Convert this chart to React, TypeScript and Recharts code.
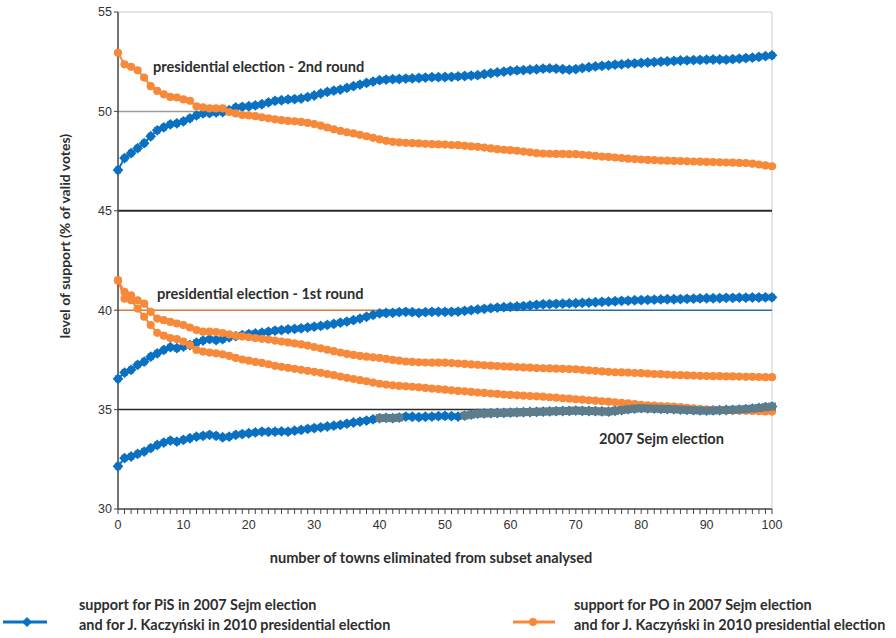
import React from "react";
import { LineChart, Line, XAxis, YAxis, ReferenceLine } from "recharts";

// number of towns eliminated (0..100)
const towns = Array.from({ length: 101 }, (_, i) => i);
const xLabels = [0, 10, 20, 30, 40, 50, 60, 70, 80, 90, 100];
const yTicks = [30, 35, 40, 45, 50, 55];

// presidential election - 2nd round
const pres2PiS = [
  47.05, 47.65, 47.9, 48.15, 48.4, 48.75, 49.05, 49.2, 49.35, 49.4,
  49.5, 49.65, 49.8, 49.9, 49.92, 49.95, 49.97, 50.06, 50.2, 50.23,
  50.26, 50.3, 50.36, 50.45, 50.53, 50.56, 50.6, 50.62, 50.65, 50.72,
  50.8, 50.9, 50.98, 51.04, 51.1, 51.18, 51.27, 51.35, 51.43, 51.5,
  51.57, 51.6, 51.62, 51.63, 51.65, 51.66, 51.68, 51.7, 51.72, 51.72,
  51.73, 51.74, 51.76, 51.78, 51.8, 51.82, 51.87, 51.92, 51.96, 52.0,
  52.04, 52.06, 52.08, 52.1, 52.12, 52.15, 52.16, 52.15, 52.12, 52.1,
  52.13, 52.18, 52.22, 52.26, 52.29, 52.32, 52.35, 52.37, 52.4, 52.42,
  52.44, 52.46, 52.48, 52.5, 52.52, 52.54, 52.56, 52.57, 52.58, 52.59,
  52.6, 52.61, 52.61, 52.6, 52.63, 52.65, 52.68, 52.7, 52.74, 52.78,
  52.82,
];
const pres2PO = [
  52.95, 52.37, 52.24, 52.07, 51.7, 51.27, 51.03, 50.86, 50.73, 50.7,
  50.6, 50.53, 50.26, 50.2, 50.15, 50.15, 50.15, 49.97, 49.9, 49.82,
  49.8, 49.76, 49.7, 49.65, 49.6, 49.56, 49.52, 49.5, 49.47, 49.42,
  49.36, 49.28, 49.19, 49.1, 49.02, 48.95, 48.89, 48.82, 48.75, 48.67,
  48.59, 48.52, 48.47, 48.44, 48.42, 48.4, 48.39, 48.37, 48.35, 48.34,
  48.33, 48.31, 48.3, 48.27, 48.24, 48.22, 48.18, 48.14, 48.1, 48.07,
  48.05, 48.02, 47.98, 47.94, 47.9, 47.88, 47.87, 47.86, 47.86, 47.85,
  47.85, 47.82, 47.79, 47.76, 47.73, 47.71, 47.68, 47.65, 47.62, 47.6,
  47.58, 47.56, 47.55, 47.53, 47.52, 47.51, 47.5, 47.49, 47.48, 47.47,
  47.46, 47.45, 47.44, 47.43, 47.42, 47.41, 47.4, 47.37, 47.33, 47.28,
  47.24,
];

// presidential election - 1st round
const pres1PiS = [
  36.55, 36.86, 37.0, 37.25, 37.41, 37.66, 37.83, 38.0, 38.14, 38.09,
  38.17, 38.25, 38.37, 38.47, 38.54, 38.5, 38.54, 38.64, 38.7, 38.75,
  38.8, 38.83, 38.87, 38.92, 38.97, 39.0, 39.04, 39.06, 39.09, 39.13,
  39.17, 39.21, 39.26, 39.31, 39.37, 39.43, 39.5, 39.58, 39.67, 39.76,
  39.84, 39.86, 39.87, 39.9, 39.92, 39.9, 39.87, 39.9, 39.92, 39.92,
  39.92, 39.92, 39.93, 39.97, 40.0, 40.04, 40.07, 40.1, 40.13, 40.15,
  40.17, 40.19, 40.21, 40.24, 40.27, 40.3, 40.31, 40.32, 40.33, 40.34,
  40.35, 40.37, 40.38, 40.4, 40.42, 40.43, 40.45, 40.47, 40.48, 40.5,
  40.51, 40.52, 40.53, 40.54, 40.55, 40.55, 40.56, 40.57, 40.58, 40.59,
  40.6, 40.6, 40.61, 40.62, 40.62, 40.63, 40.63, 40.64, 40.64, 40.65,
  40.65,
];
const pres1PO = [
  41.5, 40.92, 40.75, 40.5, 40.33, 39.92, 39.58, 39.5, 39.41, 39.33,
  39.25, 39.13, 39.0, 38.92, 38.92, 38.9, 38.85, 38.78, 38.72, 38.68,
  38.64, 38.6, 38.56, 38.52, 38.47, 38.42, 38.38, 38.33, 38.28, 38.22,
  38.15, 38.08, 38.01, 37.94, 37.87, 37.8, 37.75, 37.7, 37.66, 37.63,
  37.6, 37.55, 37.5, 37.46, 37.42, 37.4, 37.38, 37.37, 37.36, 37.36,
  37.36, 37.34, 37.32, 37.3, 37.27, 37.25, 37.23, 37.21, 37.19, 37.17,
  37.16, 37.14, 37.12, 37.11, 37.09, 37.08, 37.07, 37.06, 37.05, 37.04,
  37.03, 37.0, 36.97, 36.95, 36.92, 36.9, 36.88, 36.87, 36.86, 36.84,
  36.83, 36.81, 36.79, 36.78, 36.76, 36.74, 36.73, 36.72, 36.71, 36.7,
  36.69, 36.68, 36.68, 36.67, 36.67, 36.66, 36.65, 36.65, 36.64, 36.63,
  36.63,
];

// 2007 Sejm election
const sejmPO = [
  41.5, 40.58, 40.5, 40.08, 39.67, 39.25, 38.86, 38.72, 38.6, 38.55,
  38.42, 38.25, 38.0, 37.92, 37.87, 37.83, 37.78, 37.7, 37.6, 37.52,
  37.46, 37.4, 37.35, 37.28, 37.2, 37.15, 37.1, 37.05, 37.0, 36.95,
  36.9, 36.85, 36.79, 36.73, 36.66, 36.6, 36.54, 36.48, 36.42, 36.36,
  36.3, 36.26, 36.22, 36.19, 36.17, 36.15, 36.12, 36.09, 36.06, 36.03,
  36.0, 35.97, 35.94, 35.92, 35.89, 35.86, 35.84, 35.81, 35.79, 35.76,
  35.74, 35.72, 35.7, 35.68, 35.67, 35.65, 35.62, 35.6, 35.57, 35.55,
  35.52, 35.5, 35.47, 35.45, 35.42, 35.4, 35.37, 35.34, 35.31, 35.28,
  35.24, 35.22, 35.2, 35.18, 35.16, 35.15, 35.12, 35.09, 35.06, 35.03,
  35.0, 34.99, 34.98, 34.97, 34.96, 34.95, 34.94, 34.93, 34.92, 34.91,
  34.9,
];
const sejmPiS = [
  32.15, 32.56, 32.64, 32.77, 32.89, 33.06, 33.22, 33.34, 33.44, 33.39,
  33.48, 33.56, 33.64, 33.68, 33.73, 33.68, 33.61, 33.64, 33.73, 33.77,
  33.81, 33.85, 33.89, 33.88, 33.89, 33.9, 33.89, 33.94, 33.98, 34.03,
  34.07, 34.11, 34.15, 34.19, 34.23, 34.29, 34.35, 34.4, 34.45, 34.51,
  34.57, 34.58, 34.57, 34.6, 34.65, 34.64, 34.62, 34.64, 34.65, 34.67,
  34.68, 34.67, 34.65, 34.7, 34.75, 34.8, 34.81, 34.82, 34.83, 34.84,
  34.85, 34.86, 34.87, 34.88, 34.89, 34.9, 34.91, 34.92, 34.93, 34.94,
  34.95, 34.94, 34.93, 34.92, 34.91, 34.9, 34.94, 34.98, 35.02, 35.05,
  35.07, 35.06, 35.05, 35.04, 35.03, 35.02, 35.0, 34.99, 34.97, 34.96,
  34.95, 34.96, 34.97, 34.98, 34.99, 35.0, 35.02, 35.05, 35.08, 35.12,
  35.15,
];
// stretches of the Sejm PiS series drawn in grey in the original
const greyRanges = [
  [40, 43],
  [53, 100],
];

const BLUE = "#0a71c2";
const ORANGE = "#f7893a";
const GREY = "#5f7c8a";
const FONT = "Lato, 'Liberation Sans', sans-serif";
const TICK_FONT = "'Liberation Sans Narrow', 'Liberation Sans', sans-serif";

const data = towns.map((x, i) => ({
  x,
  pres2PiS: pres2PiS[i],
  pres2PO: pres2PO[i],
  pres1PiS: pres1PiS[i],
  pres1PO: pres1PO[i],
  sejmPiS: sejmPiS[i],
  sejmPO: sejmPO[i],
  sejmGrey: greyRanges.some(([a, b]) => x >= a && x <= b) ? sejmPiS[i] : null,
}));

// blue marker: fat diamond with a small cross-bar, like the original
const diamondDot = (color: string, s = 5.4) => (props: any) => {
  const { cx, cy, index } = props;
  if (cx == null || cy == null || props.value == null) return <g key={`d${index}`} />;
  return (
    <g key={`d${index}`}>
      <path
        d={`M${cx},${cy - s}L${cx + s},${cy}L${cx},${cy + s}L${cx - s},${cy}Z`}
        fill={color}
      />
      <rect x={cx - 3} y={cy - 3.4} width={6} height={6.8} fill={color} />
    </g>
  );
};

const circleDot = (color: string) => (props: any) => {
  const { cx, cy, index } = props;
  if (cx == null || cy == null) return <g key={`c${index}`} />;
  return <circle key={`c${index}`} cx={cx} cy={cy} r={4.1} fill={color} />;
};

const squareDot = (color: string) => (props: any) => {
  const { cx, cy, index } = props;
  if (cx == null || cy == null || props.value == null) return <g key={`s${index}`} />;
  return <rect key={`s${index}`} x={cx - 4} y={cy - 4} width={8} height={8} fill={color} />;
};

function Overlay() {
  const t = { fontFamily: FONT, fontWeight: 700, fill: "#2e2e2e" } as const;
  return (
    <svg
      width={896}
      height={638}
      style={{ position: "absolute", left: 0, top: 0, pointerEvents: "none" }}
    >
      <text x={153} y={72} fontSize={14.6} {...t}>presidential election - 2nd round</text>
      <text x={157} y={299} fontSize={14.6} {...t}>presidential election - 1st round</text>
      <text x={599} y={444} fontSize={14.6} {...t}>2007 Sejm election</text>
      <text x={431} y={563} fontSize={14.6} textAnchor="middle" {...t}>
        number of towns eliminated from subset analysed
      </text>
      <text
        x={0}
        y={0}
        fontSize={14}
        textAnchor="middle"
        transform="translate(70,236) rotate(-90)"
        {...t}
      >
        level of support (% of valid votes)
      </text>

      <line x1={3} y1={622} x2={47} y2={622} stroke={BLUE} strokeWidth={3} />
      <path d="M27,617L32,622L27,627L22,622Z" fill={BLUE} />
      <text x={79} y={610} fontSize={14.4} {...t}>support for PiS in 2007 Sejm election</text>
      <text x={79} y={630} fontSize={14.4} {...t}>and for J. Kaczyński in 2010 presidential election</text>

      <line x1={513} y1={622} x2={555} y2={622} stroke={ORANGE} strokeWidth={3} />
      <circle cx={533} cy={622} r={4} fill={ORANGE} />
      <text x={574} y={610} fontSize={14.4} {...t}>support for PO in 2007 Sejm election</text>
      <text x={574} y={630} fontSize={14.4} {...t}>and for J. Kaczyński in 2010 presidential election</text>
    </svg>
  );
}

export default function App() {
  return (
    <div
      style={{
        position: "absolute",
        left: 0,
        top: 0,
        width: 896,
        height: 638,
        background: "#fff",
      }}
    >
      <LineChart
        width={896}
        height={638}
        data={data}
        margin={{ top: 12, right: 124, bottom: 99, left: 58 }}
      >
        <XAxis
          type="number"
          dataKey="x"
          domain={[0, 100]}
          ticks={towns}
          interval={0}
          tickFormatter={(v: number) => (xLabels.includes(v) ? String(v) : "")}
          tickSize={5}
          tickMargin={6}
          axisLine={{ stroke: "#444", strokeWidth: 1.5 }}
          tickLine={{ stroke: "#444" }}
          tick={{ fontSize: 12.5, fill: "#333", fontFamily: TICK_FONT }}
          height={30}
        />
        <YAxis
          type="number"
          domain={[30, 55]}
          ticks={yTicks}
          interval={0}
          width={60}
          tickSize={4}
          tickMargin={2}
          axisLine={{ stroke: "#444", strokeWidth: 1.5 }}
          tickLine={{ stroke: "#444" }}
          tick={{ fontSize: 12.5, fill: "#333", fontFamily: TICK_FONT }}
        />
        <ReferenceLine y={55} stroke="#dcdcdc" strokeWidth={1.5} />
        <ReferenceLine x={100} stroke="#dcdcdc" strokeWidth={1.5} />
        <ReferenceLine segment={[{ x: 0, y: 50 }, { x: 14, y: 50 }]} stroke="#9a9a9a" strokeWidth={1.5} />
        <ReferenceLine y={45} stroke="#2b2b2b" strokeWidth={2} />
        <ReferenceLine segment={[{ x: 0, y: 40 }, { x: 40, y: 40 }]} stroke="#d8783a" strokeWidth={1.5} />
        <ReferenceLine segment={[{ x: 40, y: 40 }, { x: 100, y: 40 }]} stroke="#2a6aa8" strokeWidth={1.5} />
        <ReferenceLine y={35} stroke="#2b2b2b" strokeWidth={1.5} />

        <Line dataKey="pres2PiS" stroke={BLUE} strokeWidth={2} dot={diamondDot(BLUE)} isAnimationActive={false} />
        <Line dataKey="pres1PiS" stroke={BLUE} strokeWidth={2} dot={diamondDot(BLUE)} isAnimationActive={false} />
        <Line dataKey="sejmPiS" stroke={BLUE} strokeWidth={2} dot={diamondDot(BLUE)} isAnimationActive={false} />
        <Line dataKey="pres2PO" stroke={ORANGE} strokeWidth={2} dot={circleDot(ORANGE)} isAnimationActive={false} />
        <Line dataKey="pres1PO" stroke={ORANGE} strokeWidth={2} dot={circleDot(ORANGE)} isAnimationActive={false} />
        <Line dataKey="sejmPO" stroke={ORANGE} strokeWidth={2} dot={circleDot(ORANGE)} isAnimationActive={false} />
        <Line
          dataKey="sejmGrey"
          stroke="none"
          dot={squareDot(GREY)}
          connectNulls={false}
          isAnimationActive={false}
        />
      </LineChart>
      <Overlay />
    </div>
  );
}
